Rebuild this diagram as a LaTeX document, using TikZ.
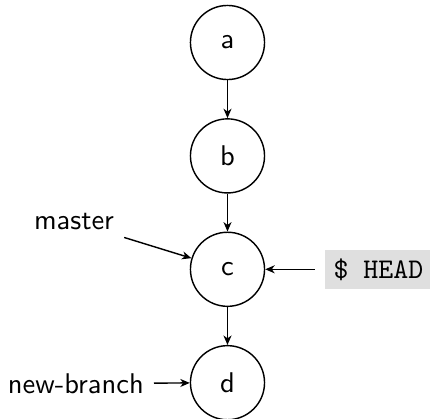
\documentclass[tikz,border=0pt]{standalone}
\usepackage{tikz}
\usetikzlibrary{arrows.meta}
\begin{document}
\begin{tikzpicture}[x=0.3509pt,y=-0.3509pt,
  every path/.style={line width=0.5pt},
  commit/.style={draw,circle,minimum size=26pt,inner sep=0pt,font=\sffamily},
  lbl/.style={font=\sffamily},
  headbox/.style={font=\ttfamily,fill=gray!25,inner xsep=3pt,inner ysep=3pt,text height=7.1pt,text depth=0.7pt,outer sep=3.5pt},
  >={Stealth[length=3.3pt,width=2.8pt,inset=1pt]}]
\useasboundingbox (0,0) rectangle (430,419);
\node[commit] (a) at (227.5,42.5) {a};
\node[commit] (b) at (227.5,155.9) {b};
\node[commit] (c) at (227.5,269.3) {c};
\node[commit] (d) at (227.5,382.7) {d};
\node[lbl,anchor=base] (master) at (74,230) {master};
\node[lbl,anchor=base east] (nb) at (154,393.3) {new-branch};
\node[headbox,anchor=west] (head) at (315,269.3) {\$ HEAD};
\draw[->] (a) -- (b);
\draw[->] (b) -- (c);
\draw[->] (c) -- (d);
\draw[->] (master) -- (c);
\draw[->] (nb) -- (d);
\draw[->] (head) -- (c);
\end{tikzpicture}
\end{document}
